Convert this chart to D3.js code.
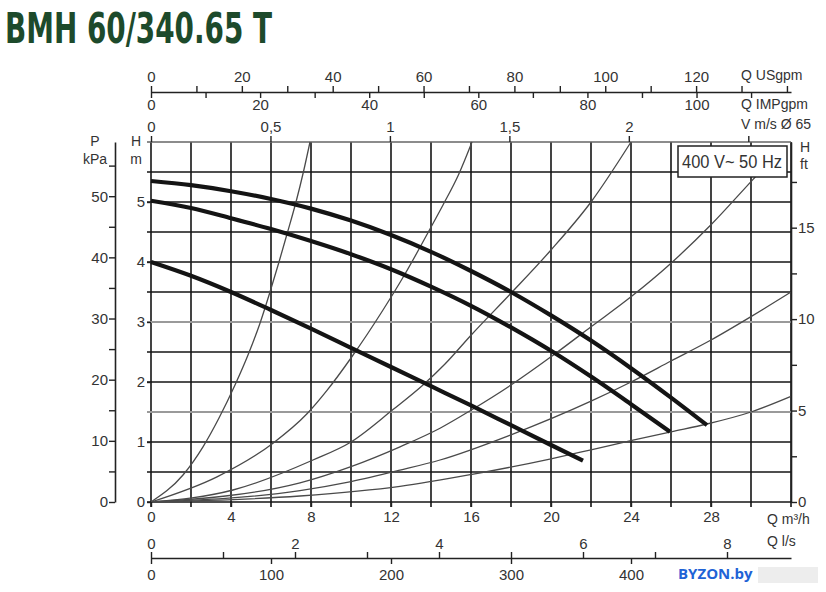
<!DOCTYPE html>
<html>
<head>
<meta charset="utf-8">
<script src="https://cdn.jsdelivr.net/npm/d3@7"></script>
<style>
body { margin: 0; background: #fff; }
text { font-family: "Liberation Sans", Arial, sans-serif; }
.tick text { font-size: 15px; fill: #333; }
.lbl { font-size: 14px; fill: #333; }
</style>
</head>
<body>
<div id="chart"></div>
<script>
// chart values
const title = "BMH 60/340.65 T";
const legendText = "400 V~ 50 Hz";

// flow Q m3/h against head H m, three pump speeds
const pumpHigh = [[0,5.35],[2,5.28],[4,5.18],[6,5.05],[8,4.89],[10,4.69],[12,4.45],[14,4.17],[16,3.85],[18,3.5],[20,3.11],[22,2.69],[24,2.23],[26,1.74],[27.8,1.28]];
const pumpMid = [[0,5.02],[2,4.9],[4,4.73],[6,4.55],[8,4.35],[10,4.13],[12,3.88],[14,3.59],[16,3.27],[18,2.91],[20,2.52],[22,2.09],[24,1.63],[25.95,1.17]];
const pumpLow = [[0,4.0],[2,3.77],[4,3.5],[6,3.2],[8,2.89],[10,2.57],[12,2.25],[14,1.93],[16,1.61],[18,1.28],[20,0.95],[21.6,0.69]];

// thin system curves from the origin
const sysA = [[0,0],[1.6,0.45],[2.6,0.92],[3.4,1.4],[4.2,1.95],[4.85,2.45],[5.45,2.98],[5.95,3.5],[6.4,4.0],[6.83,4.5],[7.25,5.0],[7.62,5.5],[7.95,6.0]];
const sysB = [[0,0],[3.3,0.42],[6.1,0.98],[7.8,1.47],[8.8,1.86],[10,2.4],[11.6,3.2],[12.7,3.8],[13.95,4.55],[14.6,4.95],[15.37,5.45],[16.05,6.0]];
const sysC = [[0,0],[4.1,0.2],[8.1,0.7],[10,1.0],[12.1,1.54],[13.6,1.95],[14.7,2.3],[16,2.78],[18,3.48],[20,4.2],[22,5.0],[24,6.0]];
const sysD = [[0,0],[7.45,0.32],[10,0.59],[12.45,0.92],[14.45,1.23],[16,1.53],[18,1.95],[20,2.42],[22,2.92],[24,3.42],[26,3.98],[28,4.62],[30,5.34],[31,5.7]];
const sysE = [[0,0],[7.45,0.19],[10,0.34],[12.45,0.53],[14.45,0.7],[18,1.12],[22,1.68],[24,2.0],[26,2.35],[28,2.7],[30,3.09],[32,3.5]];
const sysF = [[0,0],[7.45,0.1],[12.45,0.26],[16.05,0.46],[20,0.72],[22,0.87],[24.1,1.03],[26,1.17],[27.8,1.3],[30,1.5],[32,1.76]];
const systemCurves = [sysA, sysB, sysC, sysD, sysE, sysF];

// tick values of the axes
const qM3hTicks = [0, 4, 8, 12, 16, 20, 24, 28];
const qGrid = d3.range(0, 32.01, 2);
const hGrid = d3.range(0, 6.01, 0.5);
const hGray = [1.5, 3.0];
const hMTicks = [0, 1, 2, 3, 4, 5];
const pKpaTicks = d3.range(0, 56, 5);
const hFtTicks = d3.range(0, 18, 2.5);
const vTicks = [0, 0.5, 1, 1.5, 2, 2.5];
const usgpmTicks = d3.range(0, 141, 10);
const usgpmLabels = [0, 20, 40, 60, 80, 100, 120];
const impgpmTicks = d3.range(0, 111, 10);
const impgpmLabels = [0, 20, 40, 60, 80, 100];
const lsTicks = d3.range(0, 9, 1);
const lsLabels = [0, 2, 4, 6, 8];
const lminTicks = [0, 100, 200, 300, 400];

// unit conversions
const USGPM_PER_M3H = 4.4029;
const IMPGPM_PER_M3H = 3.6662;
const LS_PER_M3H = 1 / 3.6;
const LMIN_PER_M3H = 1000 / 60;
const FT_PER_M = 3.2808;
const KPA_PER_M = 9.81;
const PIPE_AREA = Math.PI * 0.065 * 0.065 / 4;   // Ø 65

const WIDTH = 826, HEIGHT = 592;
const PLOT = {left: 151, right: 791, top: 142, bottom: 502};
const Q_MAX = 32, H_MAX = 6;

const svg = d3.select('#chart').append('svg')
    .attr('width', WIDTH)
    .attr('height', HEIGHT);
svg.append('rect').attr('width', WIDTH).attr('height', HEIGHT).attr('fill', '#fff');

const x = d3.scaleLinear().domain([0, Q_MAX]).range([PLOT.left, PLOT.right]);
const y = d3.scaleLinear().domain([0, H_MAX]).range([PLOT.bottom, PLOT.top]);

// derived scales sharing the same pixels
const xUs = d3.scaleLinear().domain([0, Q_MAX * USGPM_PER_M3H]).range(x.range());
const xImp = d3.scaleLinear().domain([0, Q_MAX * IMPGPM_PER_M3H]).range(x.range());
const xV = d3.scaleLinear().domain([0, Q_MAX / 3600 / PIPE_AREA]).range(x.range());
const xLs = d3.scaleLinear().domain([0, Q_MAX * LS_PER_M3H]).range(x.range());
const xLmin = d3.scaleLinear().domain([0, Q_MAX * LMIN_PER_M3H]).range(x.range());
const yKpa = d3.scaleLinear().domain([0, H_MAX * KPA_PER_M]).range(y.range());
const yFt = d3.scaleLinear().domain([0, H_MAX * FT_PER_M]).range(y.range());

// title
svg.append('text')
    .attr('x', 5).attr('y', 43)
    .attr('textLength', 267).attr('lengthAdjust', 'spacingAndGlyphs')
    .style('font-family', '"DejaVu Sans Condensed", "Liberation Sans", sans-serif')
    .style('font-weight', 'bold')
    .style('font-size', '42px')
    .style('fill', '#1d4a2b')
    .text(title);

// grid
const grid = svg.append('g');
grid.selectAll('line.v').data(qGrid).enter().append('line')
    .attr('x1', d => x(d)).attr('x2', d => x(d))
    .attr('y1', PLOT.top).attr('y2', PLOT.bottom + 5)
    .attr('stroke', '#151515').attr('stroke-width', 1.6);
grid.selectAll('line.h').data(hGrid).enter().append('line')
    .attr('x1', PLOT.left - 4).attr('x2', PLOT.right)
    .attr('y1', d => y(d)).attr('y2', d => y(d))
    .attr('stroke', d => hGray.includes(d) ? '#9a9a9a' : (d === H_MAX ? '#666' : '#151515'))
    .attr('stroke-width', d => hGray.includes(d) ? 2 : 1.6);

// system curves
const line = d3.line()
    .x(d => x(d[0]))
    .y(d => y(d[1]))
    .curve(d3.curveMonotoneX);
svg.append('g').selectAll('path').data(systemCurves).enter().append('path')
    .attr('d', line)
    .attr('fill', 'none')
    .attr('stroke', '#4a4a4a')
    .attr('stroke-width', 1.3);

// pump curves
svg.append('g').selectAll('path').data([pumpHigh, pumpMid, pumpLow]).enter().append('path')
    .attr('d', line)
    .attr('fill', 'none')
    .attr('stroke', '#141414')
    .attr('stroke-width', 4.2);

// legend box
svg.append('rect')
    .attr('x', 678).attr('y', 146).attr('width', 109).attr('height', 31)
    .attr('fill', '#fff').attr('stroke', '#222').attr('stroke-width', 1.5);
svg.append('text')
    .attr('x', 732).attr('y', 168)
    .attr('text-anchor', 'middle')
    .attr('textLength', 100).attr('lengthAdjust', 'spacingAndGlyphs')
    .style('font-size', '19px').style('fill', '#333')
    .text(legendText);

function styleAxis(g, keepDomain) {
    g.selectAll('.tick line').attr('stroke', '#222').attr('stroke-width', 1.4);
    if (keepDomain) g.select('.domain').attr('stroke', '#222').attr('stroke-width', 1.6);
    else g.select('.domain').remove();
}
const comma = d => String(d).replace('.', ',');
const onlyIn = list => d => list.includes(d) ? d : '';

// bottom Q m3/h labels
svg.append('g')
    .attr('transform', 'translate(0,' + PLOT.bottom + ')')
    .call(d3.axisBottom(x).tickValues(qM3hTicks).tickSize(5).tickPadding(4))
    .call(g => styleAxis(g, false));

// left H m
svg.append('g')
    .attr('transform', 'translate(' + PLOT.left + ',0)')
    .call(d3.axisLeft(y).tickValues(hMTicks).tickSize(4).tickPadding(2).tickFormat(d3.format('d')))
    .call(g => styleAxis(g, false));

// P kPa axis
svg.append('g')
    .attr('transform', 'translate(115,0)')
    .call(d3.axisLeft(yKpa).tickValues(pKpaTicks).tickSize(6).tickSizeOuter(0).tickPadding(1)
        .tickFormat(d => d % 10 === 0 ? d : ''))
    .call(g => styleAxis(g, true));

// H ft axis on the right
svg.append('g')
    .attr('transform', 'translate(' + PLOT.right + ',0)')
    .call(d3.axisRight(yFt).tickValues(hFtTicks).tickSize(6).tickSizeOuter(0).tickPadding(1)
        .tickFormat(d => d % 5 === 0 ? d : ''))
    .call(g => styleAxis(g, true));

// velocity axis on the plot top
svg.append('g')
    .attr('transform', 'translate(0,' + PLOT.top + ')')
    .call(d3.axisTop(xV).tickValues(vTicks).tickSize(6).tickPadding(4)
        .tickFormat(d => d === 2.5 ? '' : comma(d)))
    .call(g => styleAxis(g, false));

// USgpm above / IMPgpm below one line
svg.append('g')
    .attr('transform', 'translate(0,92)')
    .call(d3.axisTop(xUs).tickValues(usgpmTicks).tickSize(6).tickSizeOuter(0).tickPadding(4)
        .tickFormat(onlyIn(usgpmLabels)))
    .call(g => styleAxis(g, true));
svg.append('g')
    .attr('transform', 'translate(0,92)')
    .call(d3.axisBottom(xImp).tickValues(impgpmTicks).tickSize(6).tickPadding(1)
        .tickFormat(onlyIn(impgpmLabels)))
    .call(g => styleAxis(g, false));

// l/s above / l/min below one line
svg.append('g')
    .attr('transform', 'translate(0,558)')
    .call(d3.axisTop(xLs).tickValues(lsTicks).tickSize(6).tickSizeOuter(0).tickPadding(3)
        .tickFormat(onlyIn(lsLabels)))
    .call(g => styleAxis(g, true));
svg.append('g')
    .attr('transform', 'translate(0,558)')
    .call(d3.axisBottom(xLmin).tickValues(lminTicks).tickSize(6).tickPadding(5))
    .call(g => styleAxis(g, false));

// unit labels
const unitLabels = [
    ['P', 95, 146, 'middle'], ['kPa', 95, 164, 'middle'],
    ['H', 136, 146, 'middle'], ['m', 136, 164, 'middle'],
    ['H', 800, 152, 'start'], ['ft', 800, 169, 'start'],
    ['Q USgpm', 741, 80, 'start'], ['Q IMPgpm', 741, 109, 'start'], ['V m/s Ø 65', 741, 129, 'start'],
    ['Q m³/h', 767, 524, 'start'], ['Q l/s', 767, 546, 'start']
];
svg.append('g').selectAll('text').data(unitLabels).enter().append('text')
    .attr('class', 'lbl')
    .attr('x', d => d[1]).attr('y', d => d[2])
    .attr('text-anchor', d => d[3])
    .text(d => d[0]);

// watermark
svg.append('rect').attr('x', 758).attr('y', 567).attr('width', 60).attr('height', 16)
    .attr('fill', '#e6e6e6').attr('opacity', 0.7);
svg.append('text')
    .attr('x', 678).attr('y', 579)
    .style('font-family', '"Open Sans", "Liberation Sans", sans-serif')
    .style('font-weight', 'bold').style('font-size', '15px')
    .style('fill', '#1f63d6')
    .text('BYZON.by');
</script>
</body>
</html>
